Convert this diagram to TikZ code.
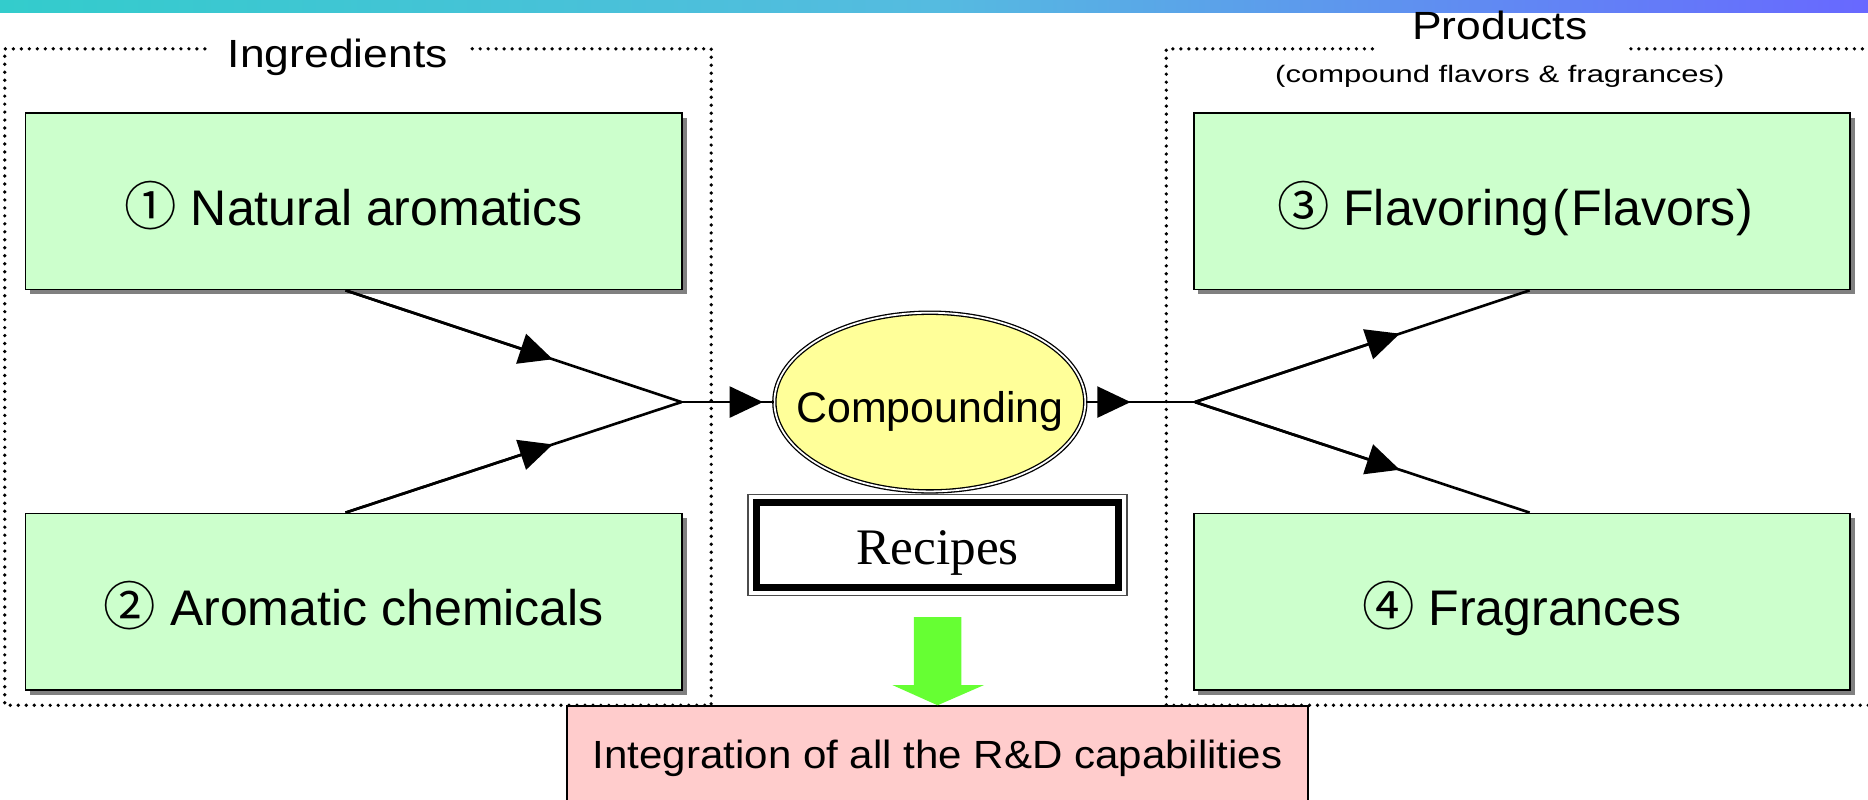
\documentclass[tikz,border=0pt]{standalone}
\usepackage{fontspec}
\setmainfont{Liberation Sans}
\newfontfamily\serifx{Liberation Serif}
\newfontfamily\cjkp[RawFeature=+palt]{Noto Sans CJK JP}
\usetikzlibrary{arrows.meta,shapes.geometric,shadows,calc}
\definecolor{boxgreen}{HTML}{CCFFCC}
\definecolor{ellyellow}{HTML}{FFFF99}
\definecolor{pinkfill}{HTML}{FFCCCC}
\definecolor{arrowgreen}{HTML}{66FF33}
\definecolor{shadowgrey}{HTML}{808080}
\definecolor{barleft}{HTML}{33CCCC}
\definecolor{barmid}{HTML}{55BBE0}
\definecolor{barright}{HTML}{6868FF}
\newcommand{\circnum}[1]{{\cjkp\fontsize{44}{48}\selectfont #1}}
\begin{document}
\begin{tikzpicture}[x=1pt,y=-1pt,
  gbox/.style={draw=black, line width=1.4pt, fill=boxgreen, minimum width=551pt,
    minimum height=148pt, inner sep=0pt, text height=40pt, text depth=0pt,
    font=\fontsize{42}{48}\selectfont,
    drop shadow={shadow xshift=4pt, shadow yshift=-4pt, fill=shadowgrey, opacity=1}},
  conn/.style={line width=2.2pt, draw=black},
  arrowtip/.style={-{Triangle[length=28pt,width=26pt]}},
  dotframe/.style={line width=3.1pt, dash pattern=on 0pt off 6.7pt, line cap=round},
  titletext/.style={font=\fontsize{33}{40}\selectfont, anchor=base, inner sep=0pt},
]
\useasboundingbox (0,0) rectangle (1568,671);
% top gradient bar
\shade[left color=barleft, right color=barright, middle color=barmid] (0,0) rectangle (1568,10.5);

% pink box (drawn first so the dotted frame runs over its top edge)
\node[draw=black, line width=1.4pt, fill=pinkfill, anchor=north, minimum width=622pt,
  minimum height=90pt, inner sep=0pt, text height=14pt, text depth=0pt,
  font=\fontsize{33}{40}\selectfont] (intg) at (787,592)
  {\scalebox{1.07}[1]{Integration of all the R\&D capabilities}};

% dotted frames
\draw[dotframe] (172,41) -- (4,41) -- (4,592) -- (597,592) -- (597,41) -- (395,41);
\draw[dotframe] (1152,41) -- (979,41) -- (979,592) -- (1580,592);
\draw[dotframe] (1369,41) -- (1580,41);

% titles
\node[titletext] (ingr) at (283.5,57) {\scalebox{1.13}[1]{Ingredients}};
\node[titletext] (prod) at (1259,33) {\scalebox{1.13}[1]{Products}};
\node[titletext, font=\fontsize{20}{24}\selectfont] (prodsub) at (1259,69.5)
  {\scalebox{1.3}[1]{(compound flavors \& fragrances)}};

% green boxes
\node[gbox] (b1) at (297,169) {\circnum{①}\ Natural aromatics};
\node[gbox] (b2) at (297,505) {\circnum{②}\ Aromatic chemicals};
\node[gbox] (b3) at (1277.5,169) {\hspace*{-11pt}\circnum{③}\ Flavoring\hspace{3pt}(\hspace{2pt}Flavors\hspace{1pt})};
\node[gbox] (b4) at (1277.5,505) {\circnum{④}\ Fragrances};

% compounding ellipse
\node[ellipse, draw=black, line width=1.1pt, double=white, double distance=1.5pt,
  fill=ellyellow, minimum width=261pt, minimum height=150pt, inner sep=0pt,
  text height=34pt, text depth=0pt, font=\fontsize{36}{40}\selectfont] (comp) at (780.5,337.5)
  {\makebox[0pt]{Compounding}};

% recipes box
\node[draw=black!70, line width=1.2pt, fill=white, minimum width=318pt, minimum height=85pt,
  inner sep=0pt, text height=32pt, text depth=0pt, font=\serifx\fontsize{43}{48}\selectfont]
  (rec) at (787,457.5) {Recipes};
\draw[line width=5.6pt] ([shift={(7.6,7.6)}]rec.north west) rectangle ([shift={(-7.6,-7.6)}]rec.south east);

% junction points
\coordinate (j1) at (572,337.5);
\coordinate (j2) at (1003,337.5);
\coordinate (p1) at ([xshift=-7pt]b1.south);
\coordinate (p2) at ([xshift=-7pt]b2.north);
\coordinate (p3) at ([xshift=6.5pt]b3.south);
\coordinate (p4) at ([xshift=6.5pt]b4.north);

% connectors
\draw[conn] (p1) -- (j1);
\draw[conn, arrowtip] (p1) -- ($(p1)!0.617!(j1)$);
\draw[conn] (p2) -- (j1);
\draw[conn, arrowtip] (p2) -- ($(p2)!0.617!(j1)$);
\draw[conn] (j1) -- (comp.west);
\draw[conn, arrowtip] (j1) -- ([xshift=-9pt]comp.west);
\draw[conn] (comp.east) -- (j2);
\draw[conn, arrowtip] (comp.east) -- ($(comp.east)!0.41!(j2)$);
\draw[conn] (j2) -- (p3);
\draw[conn, arrowtip] (j2) -- ($(j2)!0.612!(p3)$);
\draw[conn] (j2) -- (p4);
\draw[conn, arrowtip] (j2) -- ($(j2)!0.612!(p4)$);

% green block arrow into the pink box
\fill[arrowgreen] (intg.north) -- ++(39,-17) -- ++(-19,0) -- ++(0,-57) -- ++(-40,0)
  -- ++(0,57) -- ++(-18,0) -- cycle;
\end{tikzpicture}
\end{document}
